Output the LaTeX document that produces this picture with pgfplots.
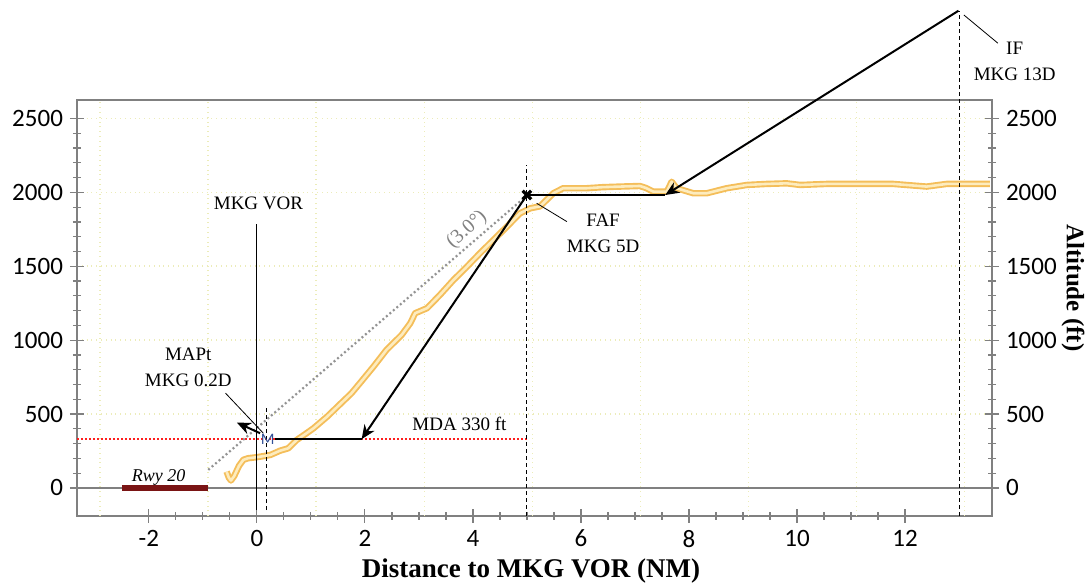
\documentclass[border=0pt]{standalone}
\usepackage{fontspec}
\setmainfont{Liberation Serif}
\newfontfamily\calibri{Carlito}
\usepackage{pgfplots}
\usepackage{pgfplotstable}
\pgfplotsset{compat=1.18}
\usetikzlibrary{arrows.meta}
\definecolor{axgray}{RGB}{128,128,128}
\definecolor{trackout}{RGB}{244,190,90}
\definecolor{trackin}{RGB}{253,236,190}
\definecolor{rwy}{RGB}{122,20,20}
\definecolor{gridy}{RGB}{236,236,185}
\definecolor{mdared}{RGB}{255,30,30}
\definecolor{mblue}{RGB}{50,80,150}

\pgfplotstableread{
x y
-0.56 110
-0.52 70
-0.48 50
-0.42 80
-0.33 150
-0.25 190
-0.16 201
0.00 208
0.12 215
0.25 223
0.43 252
0.58 268
0.74 325
0.90 365
1.05 404
1.30 482
1.55 570
1.75 640
1.91 710
2.16 821
2.40 934
2.68 1035
2.84 1114
2.93 1182
3.15 1216
3.39 1306
3.64 1407
3.86 1486
4.13 1588
4.38 1678
4.63 1768
4.87 1858
5.06 1892
5.24 1905
5.30 1926
5.49 1994
5.67 2028
6.11 2028
6.40 2035
6.72 2039
7.09 2043
7.20 2030
7.34 2005
7.59 2005
7.68 2072
7.77 2028
8.08 1994
8.33 1994
8.70 2028
9.07 2050
9.44 2057
9.81 2061
10.06 2050
10.55 2057
11.17 2057
11.78 2057
12.40 2039
12.77 2057
13.57 2057
}\track

\begin{document}
\begin{tikzpicture}
\useasboundingbox (-38.5pt,-35.5pt) rectangle (506pt,258pt);
\begin{axis}[
  at={(0,0)}, anchor=south west,
  scale only axis, width=457.5pt, height=208pt,
  xmin=-3.33, xmax=13.61, ymin=-190, ymax=2625,
  clip=false,
  axis line style={axgray, line width=1pt},
  xtick={-2,0,...,12}, minor x tick num=3,
  ytick={0,500,...,2500}, minor y tick num=4,
  tick align=center, major tick length=7pt, minor tick length=4pt,
  every tick/.style={axgray, line width=0.6pt},
  xtick pos=bottom, ytick pos=both, yticklabel pos=left,
  ticklabel style={font=\calibri\fontsize{12.5}{14}\selectfont},
  /pgf/number format/assume math mode=true,
  /pgf/number format/set thousands separator={},
  ymajorgrids, grid style={gridy, dotted, line width=0.8pt},
  extra x ticks={-2.9,-0.9,1.1,3.1,5.1,7.1,9.1,11.1,13.1},
  extra x tick labels={},
  extra x tick style={xmajorgrids=true, major tick length=0pt},
]
% zero line
\addplot[axgray, line width=1pt] coordinates {(-3.33,0) (13.61,0)};
% runway
\addplot[rwy, line width=3pt] coordinates {(-2.50,0) (-0.90,0)};
% MDA line
\addplot[mdared, line width=0.7pt, dash pattern=on 1.2pt off 0.8pt] coordinates {(-3.33,330) (5.0,330)};
% 3 degree glide path
\addplot[gray!85, line width=1.1pt, dash pattern=on 1pt off 1.3pt] coordinates {(-0.90,122) (5.01,1982)};
% track
\addplot[trackout, line width=3.2pt, line join=round] table[x=x,y=y] {\track};
\addplot[trackin, line width=1.3pt, line join=round] table[x=x,y=y] {\track};
% reference verticals
\draw[black, line width=0.5pt, dash pattern=on 2pt off 1.5pt] (5.0,-190) -- (5.0,2185);
\draw[black, line width=0.5pt, dash pattern=on 2pt off 1.5pt] (13.0,-190) -- (13.0,3229);
\draw[black, line width=0.5pt, dash pattern=on 2pt off 1.5pt] (0.17,-150) -- (0.17,550);
\draw[black, line width=0.5pt] (0,-150) -- (0,1786);
% procedure arrows
\draw[line width=1pt, -{Stealth[length=7pt,width=6pt]}] (12.99,3229) -- (7.56,1982);
\draw[line width=1pt] (7.56,1982) -- (5.0,1982);
\draw[line width=1pt, -{Stealth[length=7pt,width=6pt]}] (5.0,1982) -- (1.94,330);
\draw[line width=1pt] (1.94,330) -- (0.33,330);
\draw[line width=1pt, -{Stealth[length=7pt,width=6pt]}] (0.06,370) -- (-0.37,442);
% FAF marker
\addplot[only marks, mark=x, mark size=3pt, mark options={line width=1.6pt}, black] coordinates {(5.0,1982)};
% leaders
\draw[line width=0.4pt] (5.18,1926) -- (5.74,1802);
\draw[line width=0.4pt] (13.09,3200) -- (13.72,3009);
\draw[line width=0.4pt] (-0.58,641) -- (0.12,370);
% labels
\node[font=\calibri\fontsize{8}{8}\selectfont, text=mblue, inner sep=0.5pt] at (0.2,330) {M};
\node[align=center, font=\fontsize{9.5}{13}\selectfont] at (6.41,1720) {FAF\\MKG 5D};
\node[align=center, font=\fontsize{9.5}{13}\selectfont] at (14.03,2889) {IF\\MKG 13D};
\node[align=center, font=\fontsize{9.5}{13}\selectfont] at (-1.27,819) {MAPt\\MKG 0.2D};
\node[font=\fontsize{9.5}{11}\selectfont] at (0.03,1928) {MKG VOR};
\node[font=\fontsize{9.5}{11}\selectfont] at (3.75,433) {MDA 330 ft};
\node[font=\itshape\fontsize{9}{10}\selectfont] at (-1.82,72) {Rwy 20};
\node[font=\fontsize{10}{11}\selectfont, text=gray, rotate=42] at (3.89,1746) {(3.0°)};
\end{axis}
\begin{axis}[
  at={(0,0)}, anchor=south west,
  scale only axis, width=457.5pt, height=208pt,
  xmin=-3.33, xmax=13.61, ymin=-190, ymax=2625,
  hide x axis, axis line style={draw=none},
  ytick={0,500,...,2500}, major tick length=0pt,
  ytick pos=right, yticklabel pos=right,
  yticklabel style={xshift=3.5pt},
  ticklabel style={font=\calibri\fontsize{12.5}{14}\selectfont},
  /pgf/number format/assume math mode=true,
  /pgf/number format/set thousands separator={},
]
\end{axis}
\node[anchor=base, font=\bfseries\fontsize{13.5}{16}\selectfont] at (227pt,-31pt) {Distance to MKG VOR (NM)};
\node[rotate=-90, font=\bfseries\fontsize{12.5}{15}\selectfont] at (498pt,114pt) {Altitude (ft)};
\end{tikzpicture}
\end{document}
